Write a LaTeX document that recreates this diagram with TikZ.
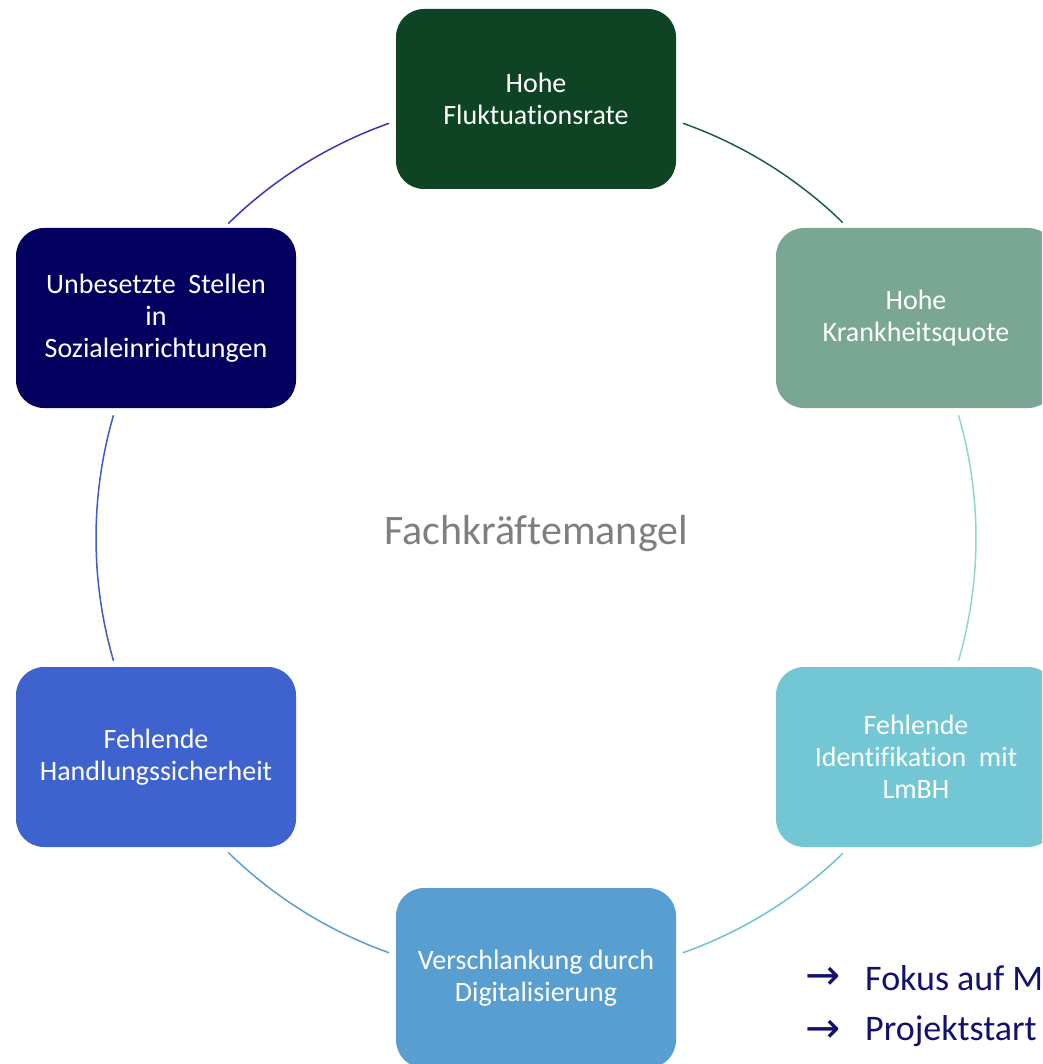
\documentclass[tikz,border=0pt]{standalone}
\usepackage{fontspec}
\setmainfont{Carlito}[Ligatures=NoCommon]
\newfontfamily\arrowfont{DejaVu Sans}
\definecolor{cTop}{HTML}{0E4424}
\definecolor{cTR}{HTML}{7AA793}
\definecolor{cBR}{HTML}{73C6D4}
\definecolor{cBot}{HTML}{589ED0}
\definecolor{cBL}{HTML}{3F63CE}
\definecolor{cTL}{HTML}{03005F}
\definecolor{aTL}{HTML}{3636BE}
\definecolor{aTR}{HTML}{1A6048}
\definecolor{aR}{HTML}{8ED8CC}
\definecolor{aBR}{HTML}{6CC4D2}
\definecolor{aBL}{HTML}{5A9FD2}
\definecolor{aL}{HTML}{3E5CC8}
\definecolor{navytxt}{HTML}{12126E}
\definecolor{graytxt}{HTML}{7F7F7F}
\tikzset{
  box/.style={rounded corners=28pt, minimum width=280pt, minimum height=180pt,
    text=white, align=center, inner sep=0pt, font=\fontsize{28}{32}\selectfont},
  ring/.style={line width=1.5pt},
  note/.style={anchor=west, text=navytxt, font=\fontsize{36}{40}\selectfont, inner sep=0pt}
}
\begin{document}
\begin{tikzpicture}[x=1pt,y=-1pt]
\useasboundingbox (0,0) rectangle (1042,1064);
\clip (0,0) rectangle (1042,1064);
\coordinate (c) at (536,538);
\node[box, fill=cTop] (top) at (536,99) {Hohe\\Fluktuationsrate};
\node[box, fill=cTR] (tr) at (916,318) {Hohe\\Krankheitsquote};
\node[box, fill=cBR] (br) at (916,757) {Fehlende\\Identifikation\ \ mit\\LmBH};
\node[box, fill=cBot] (bot) at (536,978) {Verschlankung durch\\Digitalisierung};
\node[box, fill=cBL] (bl) at (156,757) {Fehlende\\Handlungssicherheit};
\node[box, fill=cTL] (tl) at (156,318) {Unbesetzte\ \ Stellen\\in\\Sozialeinrichtungen};
\node[text=graytxt, font=\fontsize{42}{48}\selectfont] (center) at (536,534) {Fachkräftemangel};
% ring segments
\draw[ring, aTL] ([shift={(134.4:440pt)}]c) arc[start angle=134.4, end angle=109.5, radius=440pt];
\draw[ring, aTR] ([shift={(70.5:440pt)}]c) arc[start angle=70.5, end angle=45.8, radius=440pt];
\draw[ring, aR] ([shift={(16.2:440pt)}]c) arc[start angle=16.2, end angle=-16.2, radius=440pt];
\draw[ring, aBR] ([shift={(-45.8:440pt)}]c) arc[start angle=-45.8, end angle=-70.5, radius=440pt];
\draw[ring, aBL] ([shift={(-109.5:440pt)}]c) arc[start angle=-109.5, end angle=-134.4, radius=440pt];
\draw[ring, aL] ([shift={(196.2:440pt)}]c) arc[start angle=196.2, end angle=163.8, radius=440pt];
% notes
\node[note] (n1a) at (805,978) {\arrowfont\fontsize{42}{44}\selectfont →};
\node[note] (n1) at (865,978) {Fokus auf M};
\node[note] (n2a) at (805,1031) {\arrowfont\fontsize{42}{44}\selectfont →};
\node[note] (n2) at (865,1031) {Projektstart};
\end{tikzpicture}
\end{document}
